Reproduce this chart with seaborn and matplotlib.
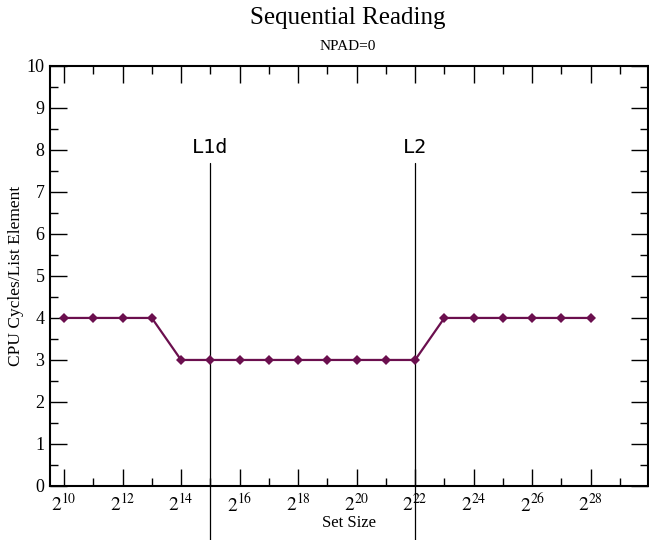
import numpy as np
import matplotlib
matplotlib.use("Agg")
import matplotlib.pyplot as plt
from matplotlib.ticker import NullFormatter
import pandas as pd
import seaborn as sns

# data: working set size exponent (2^n bytes) vs cycles per list element
exponents = [10, 11, 12, 13, 14, 15, 16, 17, 18, 19, 20, 21, 22, 23, 24, 25, 26, 27, 28]
cycles = [4, 4, 4, 4, 3, 3, 3, 3, 3, 3, 3, 3, 3, 4, 4, 4, 4, 4, 4]
cache_names = ["L1d", "L2"]
cache_exponents = [15, 22]

df = pd.DataFrame({"size": [2.0 ** e for e in exponents], "cycles": cycles})

sns.set_theme(style="ticks")
plt.rcParams["font.family"] = ["Liberation Serif", "DejaVu Serif"]
plt.rcParams["mathtext.fontset"] = "stix"
plt.rcParams["text.color"] = "black"
plt.rcParams["axes.labelcolor"] = "black"
plt.rcParams["xtick.color"] = "black"
plt.rcParams["ytick.color"] = "black"

fig = plt.figure(figsize=(6.49, 5.40), dpi=100)
ax = fig.add_axes([0.077, 0.1, 0.921, 0.778])

sns.lineplot(data=df, x="size", y="cycles", ax=ax, color="#6b0f4e",
             marker="D", markersize=5, markeredgewidth=0, linewidth=1.6)

ax.set_xscale("log", base=2)
ax.set_xlim(2 ** 9.52, 2 ** 29.95)
ax.set_ylim(0, 10)

major = [2.0 ** e for e in range(10, 30, 2)]
minor = [2.0 ** e for e in range(11, 30, 2)]
ax.set_xticks(major)
ax.set_xticklabels([f"$2^{{{e}}}$" for e in range(10, 30, 2)])
ax.set_xticks(minor, minor=True)
ax.xaxis.set_minor_formatter(NullFormatter())
ax.set_yticks(range(0, 11))
ax.set_yticks(np.arange(0.5, 10, 1.0), minor=True)

ax.tick_params(which="both", direction="in", top=True, right=True)
ax.tick_params(which="major", length=12, width=1, labelsize=13, pad=4)
ax.tick_params(which="minor", length=6, width=1)
ax.tick_params(axis="x", which="major", labelsize=14, pad=5)
for s in ax.spines.values():
    s.set_color("black")
    s.set_linewidth(1.5)

# cache size markers
for name, e in zip(cache_names, cache_exponents):
    ax.plot([2.0 ** e, 2.0 ** e], [-1.4, 7.7], color="black", linewidth=0.9,
            clip_on=False, zorder=1)
    ax.text(2.0 ** e, 7.82, name, ha="center", va="bottom", fontsize=14.5,
            family="DejaVu Sans Mono")

ax.set_xlabel("Set Size", fontsize=12, labelpad=0)
ax.set_ylabel("CPU Cycles/List Element", fontsize=12.5)
ax.yaxis.set_label_coords(-0.044, 0.5)
fig.text(0.536, 0.966, "Sequential Reading", ha="center", va="center", fontsize=18)
fig.text(0.536, 0.913, "NPAD=0", ha="center", va="center", fontsize=11)

fig.savefig("out.png", dpi=100)
